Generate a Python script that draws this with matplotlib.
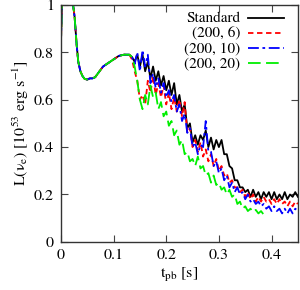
import numpy as np
import matplotlib
matplotlib.use("Agg")
import matplotlib.pyplot as plt
from matplotlib.ticker import FormatStrFormatter
from matplotlib.lines import Line2D

plt.rcParams['font.family'] = 'STIXGeneral'
plt.rcParams['mathtext.fontset'] = 'stix'

# shared early phase (all models identical)
T_EARLY = [0.0, 0.003, 0.02, 0.022, 0.026, 0.03, 0.033, 0.037, 0.041, 0.045, 0.05,
           0.055, 0.06, 0.065, 0.07, 0.075, 0.08, 0.09, 0.1, 0.11, 0.12, 0.13]
L_EARLY = [0.83, 1.10, 1.10, 1.02, 0.95, 0.83, 0.76, 0.72, 0.70, 0.688, 0.685,
           0.69, 0.69, 0.695, 0.71, 0.725, 0.74, 0.755, 0.77, 0.785, 0.79, 0.79]

# late phase sampled every 5 ms from 0.135 s
T_LATE = np.round(np.arange(0.135, 0.4501, 0.005), 3)

L_STANDARD = [0.78, 0.76, 0.79, 0.74, 0.79, 0.72, 0.76, 0.69, 0.74, 0.68, 0.72, 0.66,
              0.70, 0.64, 0.68, 0.62, 0.67, 0.58, 0.62, 0.55, 0.58, 0.48, 0.50, 0.42,
              0.45, 0.41, 0.45, 0.43, 0.47, 0.40, 0.44, 0.39, 0.43, 0.40, 0.43, 0.37,
              0.37, 0.32, 0.31, 0.26, 0.26, 0.23, 0.23, 0.21, 0.22, 0.19, 0.22, 0.19,
              0.21, 0.18, 0.21, 0.19, 0.21, 0.18, 0.21, 0.18, 0.20, 0.18, 0.21, 0.18,
              0.20, 0.19, 0.21, 0.19]
L_200_6 = [0.77, 0.72, 0.68, 0.60, 0.62, 0.58, 0.68, 0.63, 0.70, 0.62, 0.67, 0.61,
           0.66, 0.58, 0.63, 0.56, 0.61, 0.55, 0.60, 0.53, 0.59, 0.46, 0.48, 0.40,
           0.43, 0.38, 0.42, 0.36, 0.39, 0.34, 0.37, 0.32, 0.35, 0.30, 0.32, 0.28,
           0.29, 0.25, 0.26, 0.23, 0.23, 0.21, 0.22, 0.19, 0.21, 0.18, 0.20, 0.17,
           0.19, 0.17, 0.19, 0.17, 0.18, 0.16, 0.18, 0.16, 0.18, 0.16, 0.17, 0.15,
           0.17, 0.15, 0.17, 0.16]
L_200_10 = [0.78, 0.75, 0.80, 0.72, 0.81, 0.74, 0.79, 0.67, 0.71, 0.65, 0.69, 0.63,
            0.67, 0.61, 0.64, 0.59, 0.62, 0.55, 0.58, 0.51, 0.54, 0.46, 0.48, 0.40,
            0.42, 0.37, 0.41, 0.40, 0.51, 0.38, 0.38, 0.32, 0.34, 0.29, 0.31, 0.26,
            0.28, 0.23, 0.25, 0.21, 0.23, 0.20, 0.21, 0.18, 0.20, 0.17, 0.18, 0.16,
            0.17, 0.15, 0.16, 0.14, 0.15, 0.13, 0.15, 0.13, 0.14, 0.12, 0.14, 0.12,
            0.14, 0.12, 0.14, 0.13]
L_200_20 = [0.78, 0.74, 0.68, 0.60, 0.56, 0.62, 0.58, 0.66, 0.61, 0.63, 0.56, 0.59,
            0.53, 0.55, 0.49, 0.51, 0.45, 0.47, 0.41, 0.43, 0.37, 0.38, 0.34, 0.35,
            0.32, 0.36, 0.31, 0.32, 0.28, 0.29, 0.25, 0.28, 0.24, 0.25, 0.22, 0.23,
            0.20, 0.22, 0.19, 0.20, 0.16, 0.17, 0.14, 0.15, 0.13, 0.14, 0.125, 0.135,
            0.12, 0.13, 0.115, 0.12]

LABELS = ['Standard', '(200, 6)', '(200, 10)', '(200, 20)']
SERIES = [L_STANDARD, L_200_6, L_200_10, L_200_20]
COLORS = ['black', 'red', 'blue', '#00ee00']
DASHES = [(None, None), (3, 2), (6, 2, 1.5, 2), (7, 3)]

fig = plt.figure(figsize=(3.0, 2.9), dpi=100)
ax = fig.add_axes([0.203, 0.166, 0.79, 0.817])

for lab, vals, col, dash in zip(LABELS, SERIES, COLORS, DASHES):
    t = np.concatenate([T_EARLY, T_LATE[:len(vals)]])
    y = np.concatenate([L_EARLY, vals])
    line, = ax.plot(t, y, color=col, lw=1.3)
    if dash[0] is not None:
        line.set_dashes(dash)

ax.set_xlim(0, 0.45)
ax.set_ylim(0, 1)
ax.set_xticks([0, 0.1, 0.2, 0.3, 0.4])
ax.set_yticks([0, 0.2, 0.4, 0.6, 0.8, 1])
ax.xaxis.set_major_formatter(FormatStrFormatter('%g'))
ax.yaxis.set_major_formatter(FormatStrFormatter('%g'))
ax.tick_params(direction='in', top=True, right=True, length=5, width=0.8,
               labelsize=11.5, color='#444444', pad=5)
for sp in ax.spines.values():
    sp.set_linewidth(1.0)
    sp.set_color('#333333')

ax.set_xlabel(r'$\mathrm{t_{pb}}$ [s]', fontsize=11.5, labelpad=3)
ax.set_ylabel('L(ν$_\\mathrm{e}$) [10$^{53}$ erg s$^{-1}$]', fontsize=11.5, labelpad=2)

# gnuplot-style key: text right-aligned, sample line to the right
for i, (lab, col, dash) in enumerate(zip(LABELS, COLORS, DASHES)):
    yk = 0.945 - i * 0.064
    ax.text(0.756, yk, lab, transform=ax.transAxes, ha='right', va='center', fontsize=11)
    ln = Line2D([0.79, 0.94], [yk, yk], transform=ax.transAxes, color=col, lw=1.3)
    if dash[0] is not None:
        ln.set_dashes(dash)
    ax.add_line(ln)

fig.savefig('out.png', dpi=100)
